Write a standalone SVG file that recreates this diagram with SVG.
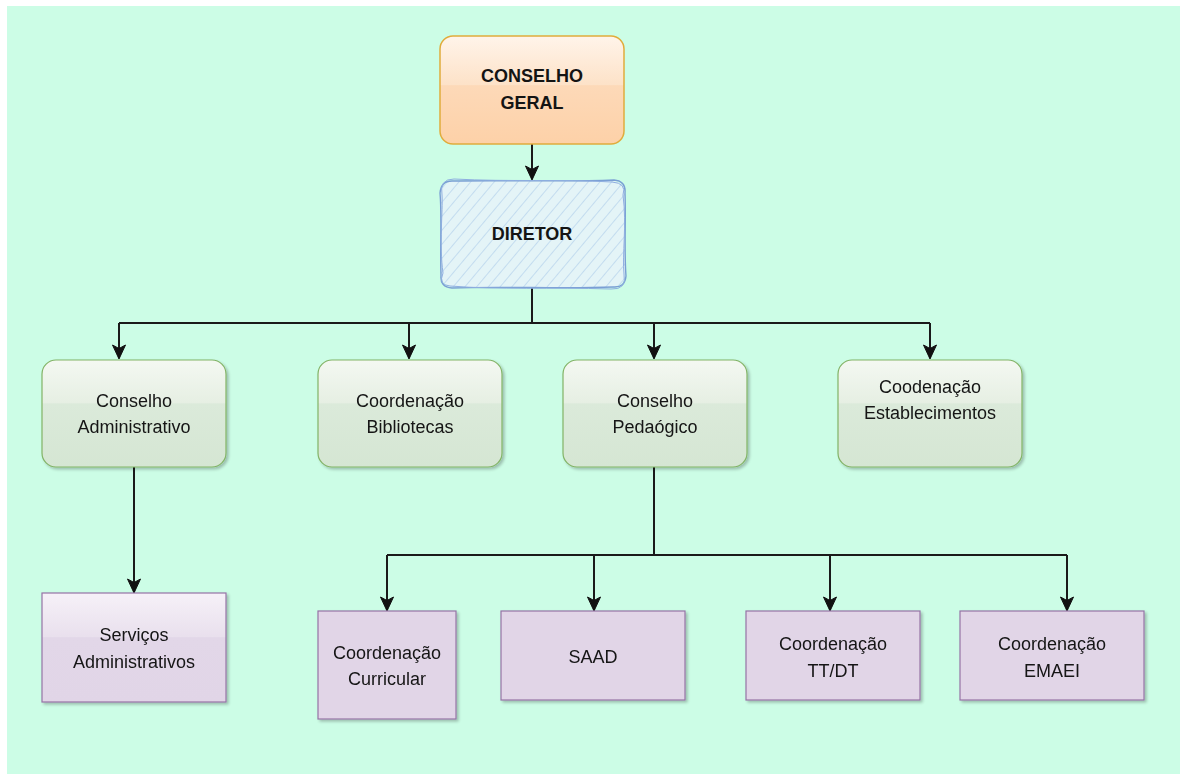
<svg xmlns="http://www.w3.org/2000/svg" width="1180" height="774" viewBox="0 0 1180 774">
<style>
  .t { font-family: "Liberation Sans", Arial, sans-serif; font-size: 18px; fill: #141414; text-anchor: middle; }
  .b { font-weight: bold; }
  .edge { fill: none; stroke: #1a1a1a; stroke-width: 2; }
  .green { stroke: #82b366; stroke-width: 1.2; }
  .purple { stroke: #9673a6; stroke-width: 1.2; fill: #e1d5e7; }
</style>
<defs>
  <linearGradient id="gOrange" x1="0" y1="0" x2="0" y2="1">
    <stop offset="0" stop-color="#fff4ea"/>
    <stop offset="0.45" stop-color="#fde2c8"/>
    <stop offset="0.46" stop-color="#fdd9b8"/>
    <stop offset="1" stop-color="#fdd1a8"/>
  </linearGradient>
  <linearGradient id="gGreen" x1="0" y1="0" x2="0" y2="1">
    <stop offset="0" stop-color="#f4f8f2"/>
    <stop offset="0.4" stop-color="#e6efe3"/>
    <stop offset="0.41" stop-color="#dbeada"/>
    <stop offset="1" stop-color="#d5e6d3"/>
  </linearGradient>
  <linearGradient id="gPurple" x1="0" y1="0" x2="0" y2="1">
    <stop offset="0" stop-color="#f6f1f8"/>
    <stop offset="0.4" stop-color="#e9e0ed"/>
    <stop offset="0.41" stop-color="#e2d7e8"/>
    <stop offset="1" stop-color="#e1d5e7"/>
  </linearGradient>
  <pattern id="hatch" width="9" height="9" patternUnits="userSpaceOnUse" patternTransform="rotate(40)">
    <rect width="9" height="9" fill="#e4f4f7"/>
    <line x1="0" y1="0" x2="0" y2="9" stroke="#c3dcef" stroke-width="2"/>
  </pattern>
  <filter id="sh" x="-10%" y="-10%" width="130%" height="130%">
    <feGaussianBlur in="SourceAlpha" stdDeviation="1.5"/>
    <feOffset dx="2" dy="2" result="o"/>
    <feComponentTransfer><feFuncA type="linear" slope="0.25"/></feComponentTransfer>
    <feMerge><feMergeNode/><feMergeNode in="SourceGraphic"/></feMerge>
  </filter>
  <marker id="arr" markerWidth="16" markerHeight="16" refX="14" refY="8" orient="auto" markerUnits="userSpaceOnUse">
    <path d="M1,1.5 L15,8 L1,14.5 L4.5,8 Z" fill="#111" stroke="#111" stroke-width="1"/>
  </marker>
</defs>

<rect x="7" y="6" width="1173" height="768" fill="#ccfde6"/>

<g id="connectors">
  <path class="edge" d="M532,144 V179" marker-end="url(#arr)"/>
  <path class="edge" d="M532,288 V323"/>
  <path class="edge" d="M119,323 H930"/>
  <path class="edge" d="M119,323 V358" marker-end="url(#arr)"/>
  <path class="edge" d="M409,323 V358" marker-end="url(#arr)"/>
  <path class="edge" d="M654,323 V358" marker-end="url(#arr)"/>
  <path class="edge" d="M930,323 V358" marker-end="url(#arr)"/>
  <path class="edge" d="M134,467 V592" marker-end="url(#arr)"/>
  <path class="edge" d="M654,467 V555"/>
  <path class="edge" d="M387,555 H1067"/>
  <path class="edge" d="M387,555 V610" marker-end="url(#arr)"/>
  <path class="edge" d="M594,555 V610" marker-end="url(#arr)"/>
  <path class="edge" d="M830,555 V610" marker-end="url(#arr)"/>
  <path class="edge" d="M1067,555 V610" marker-end="url(#arr)"/>
</g>

<g id="conselho-geral">
  <rect x="440" y="36" width="184" height="108" rx="13" fill="url(#gOrange)" stroke="#e0ac3c" stroke-width="1.5"/>
  <text class="t b" x="532" y="82">CONSELHO</text>
  <text class="t b" x="532" y="109">GERAL</text>
</g>

<g id="diretor">
  <rect x="441" y="181" width="184" height="106" rx="12" fill="url(#hatch)"/>
  <path d="M452,181 C500,180 570,182 614,180 Q626,181 625,193 C626,220 624,250 626,276 Q625,288 613,287 C560,289 500,286 452,288 Q440,287 441,276 C440,240 442,215 440,193 Q441,181 452,181 Z" fill="none" stroke="#7a9fd4" stroke-width="1.4"/>
  <path d="M454,179 C510,182 560,179 612,182 Q627,183 623,195 C627,225 622,255 624,274 Q627,290 611,289 C550,287 500,290 450,286 Q438,285 443,273 C439,245 443,210 442,195 Q439,179 454,179 Z" fill="none" stroke="#8eaee0" stroke-width="1"/>
  <text class="t b" x="532" y="240">DIRETOR</text>
</g>

<g id="conselho-administrativo" filter="url(#sh)">
  <rect class="green" x="42" y="360" width="184" height="107" rx="14" fill="url(#gGreen)"/>
  <text class="t" x="134" y="407">Conselho</text>
  <text class="t" x="134" y="433">Administrativo</text>
</g>

<g id="coordenacao-bibliotecas" filter="url(#sh)">
  <rect class="green" x="318" y="360" width="184" height="107" rx="14" fill="url(#gGreen)"/>
  <text class="t" x="410" y="407">Coordenação</text>
  <text class="t" x="410" y="433">Bibliotecas</text>
</g>

<g id="conselho-pedagogico" filter="url(#sh)">
  <rect class="green" x="563" y="360" width="184" height="107" rx="14" fill="url(#gGreen)"/>
  <text class="t" x="655" y="407">Conselho</text>
  <text class="t" x="655" y="433">Pedaógico</text>
</g>

<g id="coodenacao-estabelecimentos" filter="url(#sh)">
  <rect class="green" x="838" y="360" width="184" height="107" rx="14" fill="url(#gGreen)"/>
  <text class="t" x="930" y="393">Coodenação</text>
  <text class="t" x="930" y="419">Establecimentos</text>
</g>

<g id="servicos-administrativos" filter="url(#sh)">
  <rect x="42" y="593" width="184" height="109" fill="url(#gPurple)" stroke="#9673a6" stroke-width="1.2"/>
  <text class="t" x="134" y="641">Serviços</text>
  <text class="t" x="134" y="668">Administrativos</text>
</g>

<g id="coordenacao-curricular" filter="url(#sh)">
  <rect class="purple" x="318" y="611" width="138" height="108"/>
  <text class="t" x="387" y="659">Coordenação</text>
  <text class="t" x="387" y="685">Curricular</text>
</g>

<g id="saad" filter="url(#sh)">
  <rect class="purple" x="501" y="611" width="184" height="89"/>
  <text class="t" x="593" y="663">SAAD</text>
</g>

<g id="coordenacao-ttdt" filter="url(#sh)">
  <rect class="purple" x="746" y="611" width="174" height="89"/>
  <text class="t" x="833" y="650">Coordenação</text>
  <text class="t" x="833" y="677">TT/DT</text>
</g>

<g id="coordenacao-emaei" filter="url(#sh)">
  <rect class="purple" x="960" y="611" width="184" height="89"/>
  <text class="t" x="1052" y="650">Coordenação</text>
  <text class="t" x="1052" y="677">EMAEI</text>
</g>
</svg>
